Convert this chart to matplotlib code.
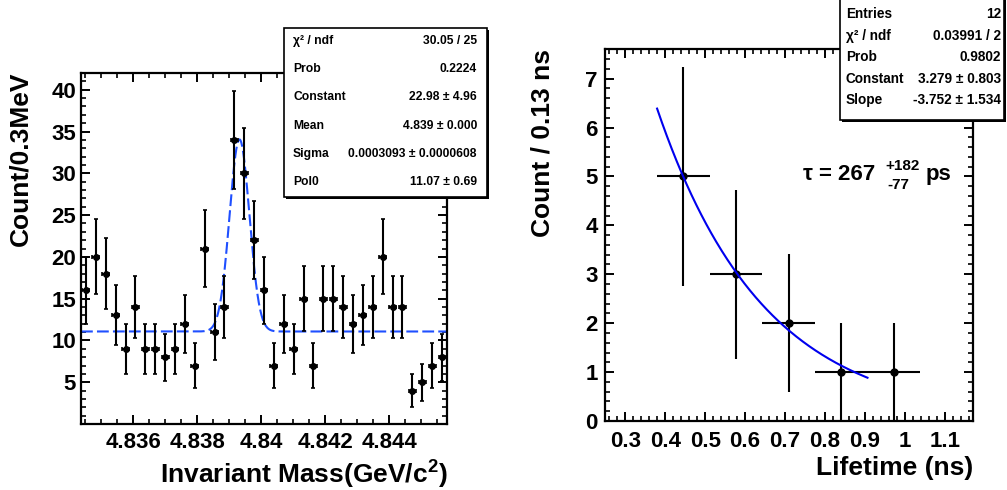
import numpy as np
import matplotlib
matplotlib.use('Agg')
import matplotlib.pyplot as plt
from matplotlib.patches import Rectangle
from matplotlib.ticker import FixedLocator, MultipleLocator

plt.rcParams['font.family'] = ['Liberation Sans', 'DejaVu Sans']
plt.rcParams['font.weight'] = 'bold'
plt.rcParams['mathtext.fontset'] = 'custom'
plt.rcParams['mathtext.rm'] = 'Liberation Sans:bold'
plt.rcParams['mathtext.bf'] = 'Liberation Sans:bold'
plt.rcParams['mathtext.it'] = 'Liberation Sans:bold'
plt.rcParams['lines.scale_dashes'] = False

# ---------------- data: left (invariant mass) ----------------
mass_range = [4.83437, 4.84580]
mass_counts = [16, 20, 18, 13, 9, 14, 9, 9, 8, 9, 12, 7, 21, 11, 14, 34, 30, 22, 16,
               7, 12, 9, 15, 7, 15, 15, 14, 12, 13, 14, 20, 14, 14, 4, 5, 7, 8]
mass_xticks = [4.836, 4.838, 4.840, 4.842, 4.844]
mass_xticklabels = ['4.836', '4.838', '4.84', '4.842', '4.844']
mass_yticks = [5, 10, 15, 20, 25, 30, 35, 40]
gaus_const, gaus_mean, gaus_sigma, pol0 = 22.98, 4.83932, 0.0003093, 11.07
stats_left_labels = ['χ² / ndf', 'Prob', 'Constant', 'Mean', 'Sigma', 'Pol0']
stats_left_values = ['30.05 / 25', '0.2224', '22.98 ± 4.96', '4.839 ± 0.000',
                     '0.0003093 ± 0.0000608', '11.07 ± 0.69']

# ---------------- data: right (lifetime) ----------------
life_range = [0.248, 1.170]
life_nbins = 7
life_counts = [0, 5, 3, 2, 1, 1, 0]
life_xticks = [0.3, 0.4, 0.5, 0.6, 0.7, 0.8, 0.9, 1.0, 1.1]
life_xticklabels = ['0.3', '0.4', '0.5', '0.6', '0.7', '0.8', '0.9', '1', '1.1']
life_yticks = [0, 1, 2, 3, 4, 5, 6, 7]
expo_const, expo_slope = 3.279, -3.752
expo_fit_range = [0.3797, 0.9065]
stats_right_labels = ['Entries', 'χ² / ndf', 'Prob', 'Constant', 'Slope']
stats_right_values = ['12', '0.03991 / 2', '0.9802', '3.279 ± 0.803', '-3.752 ± 1.534']

W, H = 1007, 490
fig = plt.figure(figsize=(W / 100, H / 100), dpi=100)
fig.patch.set_facecolor('white')


def fx(x):
    return x / W


def fy(y):
    return 1 - y / H


def style_axes(ax, padx, pady):
    for sp in ax.spines.values():
        sp.set_linewidth(1.6)
    ax.tick_params(which='major', direction='in', top=True, right=True,
                   length=6.8, width=1.4, labelsize=16)
    ax.tick_params(which='minor', direction='in', top=True, right=True,
                   length=3.6, width=1.2)
    ax.tick_params(axis='x', pad=padx)
    ax.tick_params(axis='y', pad=pady)
    for lab in ax.get_xticklabels() + ax.get_yticklabels():
        lab.set_fontweight('bold')


# ---------------- left panel ----------------
ax1 = fig.add_axes([fx(81), fy(424), fx(447) - fx(81), fy(73) - fy(424)])
nb = len(mass_counts)
edges = np.linspace(mass_range[0], mass_range[1], nb + 1)
centers = 0.5 * (edges[:-1] + edges[1:])
bw = edges[1] - edges[0]
mc = np.array(mass_counts, dtype=float)
ax1.errorbar(centers, mc, yerr=np.sqrt(mc), xerr=0.35 * bw, fmt='o', ms=4,
             color='black', ecolor='black', elinewidth=1.5, capsize=1.4,
             capthick=1.2, zorder=3)
xx = np.linspace(mass_range[0], mass_range[1], 800)
yy = gaus_const * np.exp(-0.5 * ((xx - gaus_mean) / gaus_sigma) ** 2) + pol0
ax1.plot(xx, yy, color='#1f4fff', lw=1.5, dashes=(8.5, 3.0), zorder=2)
ax1.set_xlim(mass_range)
ax1.set_ylim(0, 42)
ax1.xaxis.set_major_locator(FixedLocator(mass_xticks))
ax1.set_xticklabels(mass_xticklabels)
ax1.xaxis.set_minor_locator(MultipleLocator(0.0005))
ax1.yaxis.set_major_locator(FixedLocator(mass_yticks))
ax1.set_yticklabels([str(v) for v in mass_yticks])
ax1.yaxis.set_minor_locator(MultipleLocator(1))
style_axes(ax1, 5.5, 3.6)

fig.text(fx(20), fy(72), 'Count/0.3MeV', rotation=90, ha='center', va='top',
         fontsize=19, fontweight='bold')
fig.text(fx(448), fy(475), 'Invariant Mass(GeV/c$^{2}$)', ha='right',
         va='center', fontsize=19, fontweight='bold')

# left stats box
bx0, by0, bx1, by1 = 284, 28, 487, 197
fig.add_artist(Rectangle((fx(bx0 + 2), fy(by1 + 2)), fx(bx1) - fx(bx0),
                         fy(by0) - fy(by1), transform=fig.transFigure,
                         facecolor='black', edgecolor='black', lw=0, zorder=9))
fig.add_artist(Rectangle((fx(bx0), fy(by1)), fx(bx1) - fx(bx0),
                         fy(by0) - fy(by1), transform=fig.transFigure,
                         facecolor='white', edgecolor='black', lw=1.2, zorder=10))
for i, (lab, val) in enumerate(zip(stats_left_labels, stats_left_values)):
    yrow = 41 + 28.2 * i
    fig.text(fx(293), fy(yrow), lab, ha='left', va='center', fontsize=8.7,
             fontweight='bold', zorder=11)
    fig.text(fx(477), fy(yrow), val, ha='right', va='center', fontsize=8.7,
             fontweight='bold', zorder=11)

# ---------------- right panel ----------------
ax2 = fig.add_axes([fx(604.5), fy(421), fx(972.7) - fx(604.5), fy(49.3) - fy(421)])
ledges = np.linspace(life_range[0], life_range[1], life_nbins + 1)
lcent = 0.5 * (ledges[:-1] + ledges[1:])
lbw = ledges[1] - ledges[0]
lc = np.array(life_counts, dtype=float)
mask = lc > 0
ax2.errorbar(lcent[mask], lc[mask], yerr=np.sqrt(lc[mask]), xerr=0.5 * lbw,
             fmt='o', ms=5, color='black', ecolor='black', elinewidth=1.5,
             capsize=0, zorder=3)
fx_ = np.linspace(expo_fit_range[0], expo_fit_range[1], 300)
ax2.plot(fx_, np.exp(expo_const + expo_slope * fx_), color='#0000ee', lw=1.5,
         zorder=4)
ax2.set_xlim(life_range)
ax2.set_ylim(0, 7.6)
ax2.xaxis.set_major_locator(FixedLocator(life_xticks))
ax2.set_xticklabels(life_xticklabels)
ax2.xaxis.set_minor_locator(MultipleLocator(0.02))
ax2.yaxis.set_major_locator(FixedLocator(life_yticks))
ax2.set_yticklabels([str(v) for v in life_yticks])
ax2.yaxis.set_minor_locator(MultipleLocator(0.2))
style_axes(ax2, 7.5, 4.7)

fig.text(fx(543), fy(49), 'Count / 0.13 ns', rotation=90, ha='center', va='top',
         fontsize=19, fontweight='bold')
fig.text(fx(973), fy(468), 'Lifetime (ns)', ha='right', va='center',
         fontsize=19, fontweight='bold')

# tau annotation
fig.text(fx(803), fy(180), 'τ = 267', ha='left', va='baseline', fontsize=16,
         fontweight='bold')
fig.text(fx(885), fy(170), '+182', ha='left', va='baseline', fontsize=11,
         fontweight='bold')
fig.text(fx(887), fy(188.5), '-77', ha='left', va='baseline', fontsize=11,
         fontweight='bold')
fig.text(fx(926), fy(180), 'ps', ha='left', va='baseline', fontsize=16,
         fontweight='bold')

# right stats box
rx0, ry0, rx1, ry1 = 840, -2, 1004, 120
fig.add_artist(Rectangle((fx(rx0 + 2), fy(ry1 + 2)), fx(rx1) - fx(rx0),
                         fy(ry0) - fy(ry1), transform=fig.transFigure,
                         facecolor='black', edgecolor='black', lw=0, zorder=9))
fig.add_artist(Rectangle((fx(rx0), fy(ry1)), fx(rx1) - fx(rx0),
                         fy(ry0) - fy(ry1), transform=fig.transFigure,
                         facecolor='white', edgecolor='black', lw=1.2, zorder=10))
for i, (lab, val) in enumerate(zip(stats_right_labels, stats_right_values)):
    yrow = 14 + 21.6 * i
    fig.text(fx(846), fy(yrow), lab, ha='left', va='center', fontsize=9.8,
             fontweight='bold', zorder=11)
    fig.text(fx(1001), fy(yrow), val, ha='right', va='center', fontsize=9.8,
             fontweight='bold', zorder=11)

fig.savefig('out.png', dpi=100, facecolor='white')
